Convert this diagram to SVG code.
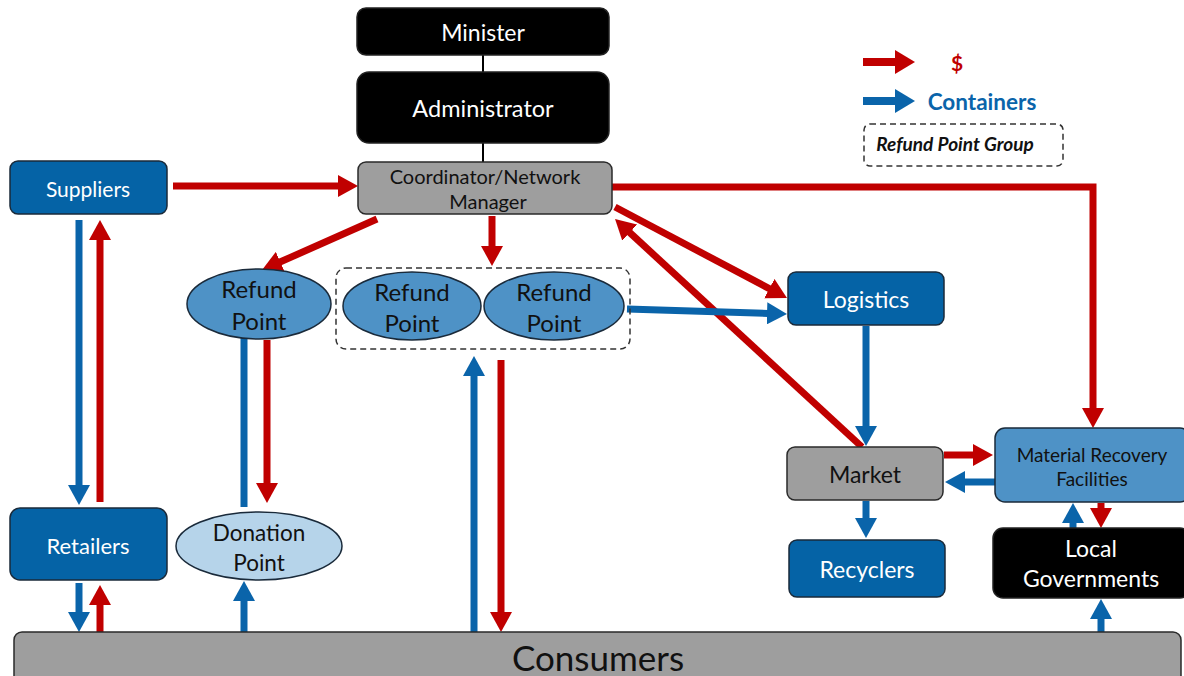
<svg xmlns="http://www.w3.org/2000/svg" width="1184" height="676" viewBox="0 0 1184 676">
<style>
text{font-family:Lato,"Open Sans","Liberation Sans",sans-serif;text-anchor:middle;dominant-baseline:central}
.blk{fill:#000;stroke:#222;stroke-width:1.5}
.gry{fill:#9E9E9E;stroke:#2a2a2a;stroke-width:1.5}
.dk{fill:#0563A6;stroke:#1a2a3a;stroke-width:1.5}
.lt{fill:#4E92C6;stroke:#1a2a3a;stroke-width:1.5}
.pale{fill:#B6D4EA;stroke:#1a2a3a;stroke-width:1.5}
.w{fill:#fff}
.k{fill:#111}
.r{stroke:#C00000;stroke-width:7;fill:none;marker-end:url(#ra)}
.b{stroke:#0A64AA;stroke-width:7;fill:none;marker-end:url(#ba)}
.dash{fill:none;stroke:#333;stroke-width:1.5;stroke-dasharray:6 4}
</style>
<defs>
<marker id="ra" viewBox="0 0 20 22" markerWidth="20" markerHeight="22" markerUnits="userSpaceOnUse" refX="1" refY="11" orient="auto"><path d="M0,0 L20,11 L0,22 Z" fill="#C00000"/></marker>
<marker id="ba" viewBox="0 0 20 22" markerWidth="20" markerHeight="22" markerUnits="userSpaceOnUse" refX="1" refY="11" orient="auto"><path d="M0,0 L20,11 L0,22 Z" fill="#0A64AA"/></marker>
<marker id="ral" viewBox="0 0 20 24" markerWidth="20" markerHeight="24" markerUnits="userSpaceOnUse" refX="1" refY="12" orient="auto"><path d="M0,0 L20,12 L0,24 Z" fill="#C00000"/></marker>
<marker id="bal" viewBox="0 0 20 24" markerWidth="20" markerHeight="24" markerUnits="userSpaceOnUse" refX="1" refY="12" orient="auto"><path d="M0,0 L20,12 L0,24 Z" fill="#0A64AA"/></marker>
</defs>
<rect width="1184" height="676" fill="#fff"/>

<g id="legend">
<line x1="863" y1="62" x2="896" y2="62" stroke="#C00000" stroke-width="8" marker-end="url(#ral)"/>
<text x="957" y="62" style="fill:#C00000;font-weight:bold;font-size:21px">$</text>
<line x1="863" y1="101" x2="896" y2="101" stroke="#0A64AA" stroke-width="8" marker-end="url(#bal)"/>
<text x="982" y="101" style="fill:#0A64AA;font-weight:bold;font-size:22.5px">Containers</text>
<rect x="864" y="124" width="199" height="42" rx="6" class="dash"/>
<text x="955" y="143" style="fill:#111;font-weight:bold;font-style:italic;font-size:19px">Refund Point Group</text>
</g>

<g id="hierarchy-links">
<line x1="483" y1="55" x2="483" y2="72" stroke="#000" stroke-width="2"/>
<line x1="483" y1="143" x2="483" y2="162" stroke="#000" stroke-width="2"/>
</g>

<g id="connectors">
<line x1="173" y1="186" x2="339" y2="186" class="r"/>
<path d="M612,187 H1093 V409" class="r" stroke-linejoin="miter"/>
<line x1="377" y1="219" x2="279.4" y2="262.3" class="r"/>
<line x1="492" y1="216" x2="492" y2="247" class="r"/>
<line x1="615" y1="207" x2="770.2" y2="289.1" class="r"/>
<line x1="862" y1="447" x2="629" y2="231.9" class="r"/>
<line x1="627" y1="309" x2="768" y2="313.4" class="b"/>
<line x1="866" y1="326" x2="866" y2="427" class="b"/>
<line x1="944" y1="455" x2="974" y2="455" class="r"/>
<line x1="995" y1="482" x2="964" y2="482" class="b"/>
<line x1="866" y1="501" x2="866" y2="519" class="b"/>
<line x1="1073" y1="528" x2="1073" y2="522" class="b"/>
<line x1="1101" y1="503" x2="1101" y2="509" class="r"/>
<line x1="1101" y1="632" x2="1101" y2="618" class="b"/>
<line x1="79" y1="220" x2="79" y2="486" class="b"/>
<line x1="100" y1="502" x2="100" y2="239" class="r"/>
<line x1="79" y1="583" x2="79" y2="613" class="b"/>
<line x1="100" y1="632" x2="100" y2="604" class="r"/>
<line x1="244" y1="507" x2="244" y2="330" class="b"/>
<line x1="267" y1="340" x2="267" y2="484" class="r"/>
<line x1="244" y1="632" x2="244" y2="600" class="b"/>
<line x1="474" y1="632" x2="474" y2="375" class="b"/>
<line x1="501" y1="360" x2="501" y2="613" class="r"/>
</g>

<g id="minister">
<rect x="357" y="8" width="252" height="47" rx="9" class="blk"/>
<text x="483" y="32" class="w" style="font-size:23px">Minister</text>
</g>
<g id="administrator">
<rect x="357" y="72" width="252" height="71" rx="12" class="blk"/>
<text x="483" y="108" class="w" style="font-size:23.5px">Administrator</text>
</g>
<g id="coordinator">
<rect x="358" y="162" width="254" height="52" rx="8" class="gry"/>
<text x="485" y="176" class="k" style="font-size:20px">Coordinator/Network</text>
<text x="488" y="201" class="k" style="font-size:20px">Manager</text>
</g>
<g id="suppliers">
<rect x="10" y="161" width="157" height="53" rx="8" class="dk"/>
<text x="88" y="188" class="w" style="font-size:21px">Suppliers</text>
</g>
<g id="retailers">
<rect x="10" y="508" width="157" height="72" rx="10" class="dk"/>
<text x="88" y="545" class="w" style="font-size:22px">Retailers</text>
</g>
<g id="refund-point-1">
<ellipse cx="259" cy="304" rx="72" ry="35" class="lt"/>
<text x="259" y="288" class="k" style="font-size:24px">Refund</text>
<text x="259" y="320" class="k" style="font-size:24px">Point</text>
</g>
<g id="refund-point-group">
<rect x="336" y="268" width="294" height="81" rx="10" class="dash"/>
<ellipse cx="412" cy="306" rx="69" ry="34" class="lt"/>
<text x="412" y="291" class="k" style="font-size:24px">Refund</text>
<text x="412" y="322" class="k" style="font-size:24px">Point</text>
<ellipse cx="554" cy="306" rx="70" ry="34" class="lt"/>
<text x="554" y="291" class="k" style="font-size:24px">Refund</text>
<text x="554" y="322" class="k" style="font-size:24px">Point</text>
</g>
<g id="donation-point">
<ellipse cx="259" cy="546" rx="83" ry="34" class="pale"/>
<text x="259" y="532" class="k" style="font-size:22.5px">Donation</text>
<text x="259" y="562" class="k" style="font-size:22.5px">Point</text>
</g>
<g id="logistics">
<rect x="788" y="272" width="156" height="53" rx="8" class="dk"/>
<text x="866" y="299" class="w" style="font-size:23px">Logistics</text>
</g>
<g id="market">
<rect x="787" y="447" width="156" height="53" rx="8" class="gry"/>
<text x="865" y="474" class="k" style="font-size:23px">Market</text>
</g>
<g id="recyclers">
<rect x="789" y="540" width="156" height="57" rx="8" class="dk"/>
<text x="867" y="569" class="w" style="font-size:23px">Recyclers</text>
</g>
<g id="mrf">
<rect x="995" y="428" width="195" height="74" rx="10" class="lt"/>
<text x="1092" y="454" class="k" style="font-size:19px">Material Recovery</text>
<text x="1092" y="478" class="k" style="font-size:19px">Facilities</text>
</g>
<g id="local-governments">
<rect x="993" y="528" width="197" height="70" rx="10" class="blk"/>
<text x="1091" y="548" class="w" style="font-size:23px">Local</text>
<text x="1091" y="578" class="w" style="font-size:23px">Governments</text>
</g>
<g id="consumers">
<rect x="14" y="632" width="1167" height="60" rx="8" class="gry"/>
<text x="598" y="657" class="k" style="font-size:35px">Consumers</text>
</g>
</svg>
